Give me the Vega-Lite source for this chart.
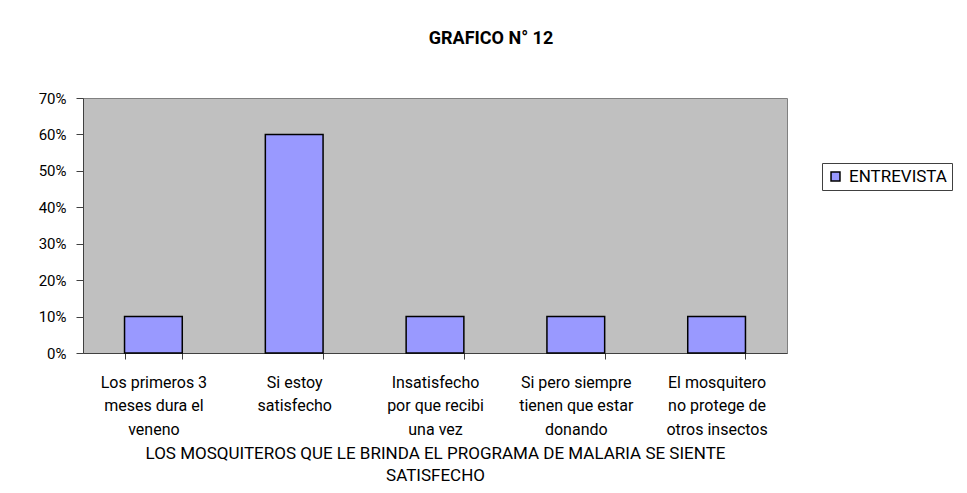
{
  "$schema": "https://vega.github.io/schema/vega-lite/v6.json",
  "width": 704,
  "height": 255,
  "autosize": "none",
  "padding": {"left": 83, "top": 98, "right": 180, "bottom": 140},
  "background": "white",
  "data": {
    "values": [
      {"respuesta": "Los primeros 3|meses dura el|veneno", "serie": "ENTREVISTA", "valor": 0.10},
      {"respuesta": "Si estoy|satisfecho", "serie": "ENTREVISTA", "valor": 0.60},
      {"respuesta": "Insatisfecho|por que recibi|una vez", "serie": "ENTREVISTA", "valor": 0.10},
      {"respuesta": "Si pero siempre|tienen que estar|donando", "serie": "ENTREVISTA", "valor": 0.10},
      {"respuesta": "El mosquitero|no protege de|otros insectos", "serie": "ENTREVISTA", "valor": 0.10}
    ]
  },
  "title": {
    "text": "GRAFICO N° 12",
    "font": "Roboto",
    "fontSize": 18,
    "fontWeight": "bold",
    "color": "black",
    "anchor": "middle",
    "dx": 56,
    "offset": 43
  },
  "mark": {"type": "bar", "stroke": "black", "strokeWidth": 1.5},
  "encoding": {
    "x": {
      "field": "respuesta",
      "type": "nominal",
      "sort": null,
      "scale": {"paddingInner": 0.59, "paddingOuter": 0.295},
      "axis": {
        "title": ["LOS MOSQUITEROS QUE LE BRINDA EL PROGRAMA DE MALARIA SE SIENTE", "SATISFECHO"],
        "titleFont": "Roboto",
        "titleFontSize": 17,
        "titleFontWeight": "normal",
        "titleColor": "black",
        "titleLineHeight": 22,
        "titlePadding": 8,
        "labelExpr": "split(datum.label, '|')",
        "labelAngle": 0,
        "labelFont": "Roboto",
        "labelFontSize": 16,
        "labelColor": "black",
        "labelLineHeight": 23.5,
        "labelPadding": 15,
        "labelLimit": 0,
        "tickBand": "extent",
        "tickSize": 6,
        "tickColor": "#404040",
        "domainColor": "#404040"
      }
    },
    "y": {
      "field": "valor",
      "type": "quantitative",
      "scale": {"domain": [0, 0.7]},
      "axis": {
        "title": null,
        "format": ".0%",
        "values": [0, 0.1, 0.2, 0.3, 0.4, 0.5, 0.6, 0.7],
        "grid": false,
        "labelFont": "Roboto",
        "labelFontSize": 15,
        "labelColor": "black",
        "labelPadding": 10,
        "tickSize": 7,
        "tickColor": "#404040",
        "domainColor": "#404040"
      }
    },
    "color": {
      "field": "serie",
      "type": "nominal",
      "scale": {"range": ["#9999FF"]},
      "legend": {
        "title": null,
        "orient": "none",
        "legendX": 739,
        "legendY": 65,
        "symbolType": "square",
        "symbolSize": 80,
        "symbolStrokeColor": "black",
        "symbolStrokeWidth": 1.5,
        "labelFont": "Roboto",
        "labelFontSize": 17,
        "labelOffset": 5,
        "labelColor": "black",
        "strokeColor": "#404040",
        "padding": 5,
        "fillColor": "white"
      }
    }
  },
  "config": {
    "view": {"fill": "#C0C0C0", "stroke": "#808080", "strokeWidth": 1}
  }
}
